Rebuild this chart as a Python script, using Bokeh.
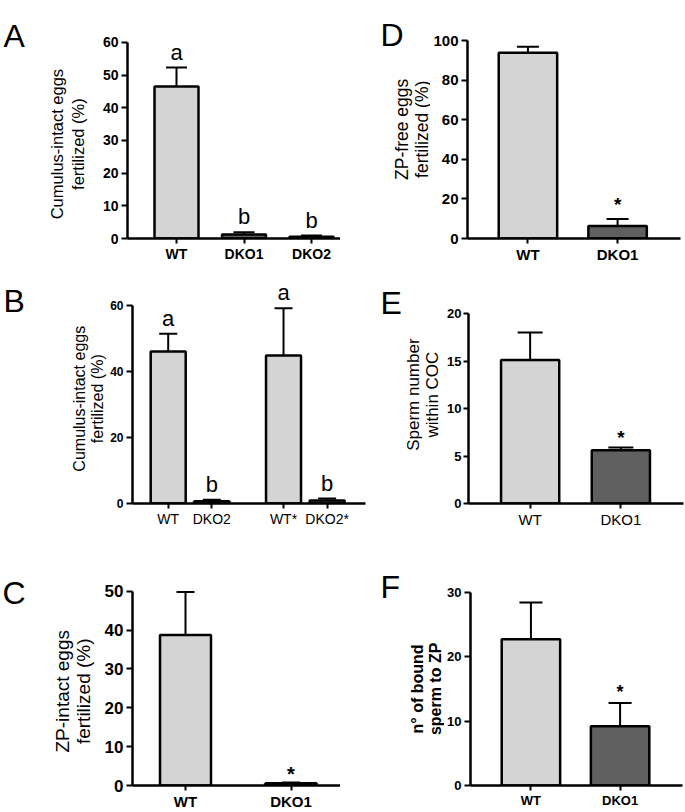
import math
from bokeh.plotting import figure
from bokeh.layouts import column, row
from bokeh.models import Range1d, FixedTicker, Whisker, TeeHead, ColumnDataSource
from bokeh.core.properties import value
from bokeh.embed import file_html
from bokeh.resources import INLINE

# ---------------- data ----------------
A_groups = ["WT", "DKO1", "DKO2"]
A_mean = [46.5, 1.2, 0.5]
A_sem = [5.8, 0.7, 0.4]
A_sig = ["a", "b", "b"]
A_ticks = [0, 10, 20, 30, 40, 50, 60]

B_groups = ["WT", "DKO2", "WT*", "DKO2*"]
B_set = [0, 0, 1, 1]
B_mean = [46.0, 0.7, 44.8, 0.9]
B_sem = [5.4, 0.4, 14.3, 0.6]
B_sig = ["a", "b", "a", "b"]
B_ticks = [0, 20, 40, 60]

C_groups = ["WT", "DKO1"]
C_mean = [38.7, 0.6]
C_sem = [11.1, 0.2]
C_sig = ["", "*"]
C_ticks = [0, 10, 20, 30, 40, 50]

D_groups = ["WT", "DKO1"]
D_mean = [93.8, 6.3]
D_sem = [3.1, 3.6]
D_sig = ["", "*"]
D_ticks = [0, 20, 40, 60, 80, 100]

E_groups = ["WT", "DKO1"]
E_mean = [15.1, 5.6]
E_sem = [2.9, 0.3]
E_sig = ["", "*"]
E_ticks = [0, 5, 10, 15, 20]

F_groups = ["WT", "DKO1"]
F_mean = [22.7, 9.2]
F_sem = [5.7, 3.6]
F_sig = ["", "*"]
F_ticks = [0, 10, 20, 30]

TITLES = {
    "A": "Cumulus-intact eggs\nfertilized (%)",
    "B": "Cumulus-intact eggs\nfertilized (%)",
    "C": "ZP-intact eggs\nfertilized (%)",
    "D": "ZP-free eggs\nfertilized (%)",
    "E": "Sperm number\nwithin COC",
    "F": "n\u00b0 of bound\nsperm to ZP",
}

# ---------------- styling ----------------
LIGHT = "#d4d4d4"
DARK = "#606060"
FONT = "Liberation Sans"


def gutter(letter, box, lpos, tpos, tfont):
    """Narrow strip left of a panel holding the panel letter and the y title."""
    x0, y0, x1, y1 = box
    w, h = x1 - x0, y1 - y0
    g = figure(width=w, height=h, x_range=Range1d(0, w), y_range=Range1d(h, 0),
               output_backend="svg", toolbar_location=None, tools="",
               x_axis_location=None, y_axis_location=None,
               min_border_left=0, min_border_right=0, min_border_top=0, min_border_bottom=0)
    g.outline_line_color = None
    g.xgrid.visible = False
    g.ygrid.visible = False
    g.text(x=[lpos[0] - x0], y=[lpos[1] - y0 - 6], text=[letter],
           text_align="left", text_baseline="top", text_font=value(FONT),
           text_font_size="32px", text_color="black")
    g.text(x=[tpos[0] - x0], y=[tpos[1] - y0], text=[TITLES[letter]], angle=math.pi / 2,
           text_align="center", text_baseline="middle", text_font=value(FONT),
           text_font_size=tfont[0], text_font_style=tfont[1],
           text_line_height=tfont[2], text_color="black")
    return g


def panel(groups, sets, mean, sem, sig, yticks, g, f):
    x0, y0, x1, y1 = g["canvas"]
    fl, fr, fb, ty, ft = g["fl"], g["fr"], g["fb"], g["ty"], g["ft"]
    unit = g["unit"]
    pos = [round(i + g.get("gap", 0) * s, 4) for i, s in enumerate(sets)]
    tmax = yticks[-1]
    y_end = tmax * (fb - ft) / (fb - ty)
    x_start = pos[0] - (g["c0"] - fl) / unit
    x_end = x_start + (fr - fl) / unit

    p = figure(width=x1 - x0, height=y1 - y0,
               x_range=Range1d(x_start, x_end), y_range=Range1d(0, y_end),
               output_backend="svg", toolbar_location=None, tools="",
               min_border_left=fl - x0, min_border_right=x1 - fr,
               min_border_top=ft - y0, min_border_bottom=y1 - fb)
    p.outline_line_color = None
    p.xgrid.visible = False
    p.ygrid.visible = False

    colors = [LIGHT if gr.startswith("WT") else DARK for gr in groups]
    up = [m + s for m, s in zip(mean, sem)]
    src = ColumnDataSource(dict(x=pos, mean=mean, up=up, sig=sig, color=colors))

    p.vbar(x="x", top="mean", bottom=0, width=g["bar"] / unit, source=src,
           fill_color="color", line_color="black", line_width=2.5)
    p.add_layout(Whisker(source=src, base="x", lower="mean", upper="up",
                         dimension="height", line_color="black", line_width=2,
                         upper_head=TeeHead(size=g["cap"], line_width=2, line_color="black"),
                         lower_head=None))
    p.text(x="x", y="up", text="sig", source=src, text_align="center",
           text_baseline="bottom", y_offset=g["sig_off"],
           text_font=value(FONT), text_font_size=f["sig"][0],
           text_font_style=f["sig"][1], text_color="black")

    xa = p.xaxis[0]
    xa.ticker = FixedTicker(ticks=pos)
    xa.major_label_overrides = {pp: gr for pp, gr in zip(pos, groups)}
    ya = p.yaxis[0]
    ya.ticker = FixedTicker(ticks=yticks)
    ya.bounds = (0, tmax)
    for ax in (xa, ya):
        ax.axis_line_width = 2.5
        ax.axis_line_color = "black"
        ax.major_tick_line_width = 2
        ax.major_tick_line_color = "black"
        ax.major_tick_in = 0
        ax.minor_tick_out = 0
        ax.minor_tick_in = 0
        ax.major_label_text_color = "black"
        ax.major_label_text_font = FONT
    xa.major_tick_out = 5
    xa.major_label_standoff = 2
    xa.major_label_text_font_size = f["xlab"][0]
    xa.major_label_text_font_style = f["xlab"][1]
    ya.major_tick_out = g.get("ytick", 6)
    ya.major_label_standoff = g.get("ystand", 3)
    ya.major_label_text_font_size = f["tick"][0]
    ya.major_label_text_font_style = f["tick"][1]
    return p


# ---- row 1 (A, D) ----
gA = gutter("A", (0, 0, 95, 268), (3, 5), (67, 153), ("16.5px", "normal", 1.2))
pA = panel(A_groups, [0, 0, 0], A_mean, A_sem, A_sig, A_ticks,
           dict(canvas=(95, 0, 340, 268), fl=127, fr=340, fb=239, ty=42, ft=18,
                c0=176, unit=67.5, bar=44, cap=21, sig_off=-3),
           dict(tick=("14px", "bold"), xlab=("14px", "bold"), sig=("22px", "normal")))
gD = gutter("D", (340, 0, 430, 268), (380, 4), (411, 135), ("17.5px", "normal", 1.0))
pD = panel(D_groups, [0, 0], D_mean, D_sem, D_sig, D_ticks,
           dict(canvas=(430, 0, 685, 268), fl=465, fr=680, fb=238, ty=40, ft=18,
                c0=526, unit=90.5, bar=59, cap=22, sig_off=-4),
           dict(tick=("15px", "bold"), xlab=("15px", "bold"), sig=("19px", "bold")))

# ---- row 2 (B, E) ----
gB = gutter("B", (0, 268, 107, 538), (3, 275), (88, 410), ("16px", "normal", 1.05))
pB = panel(B_groups, B_set, B_mean, B_sem, B_sig, B_ticks,
           dict(canvas=(107, 268, 368, 538), fl=132, fr=365, fb=505, ty=305, ft=282,
                c0=167.7, unit=43.6, gap=0.645, bar=35, cap=18, sig_off=-3),
           dict(tick=("12px", "bold"), xlab=("14px", "normal"), sig=("22px", "normal")))
gE = gutter("E", (368, 268, 444, 538), (380, 277), (422, 405), ("17px", "normal", 1.0))
pE = panel(E_groups, [0, 0], E_mean, E_sem, E_sig, E_ticks,
           dict(canvas=(444, 268, 685, 538), fl=465, fr=683, fb=503, ty=313, ft=282,
                c0=527.5, unit=92, bar=59, cap=25, sig_off=1, ytick=5, ystand=2),
           dict(tick=("13px", "bold"), xlab=("15px", "normal"), sig=("19px", "bold")))

# ---- row 3 (C, F) ----
gC = gutter("C", (0, 538, 98, 812), (2, 552), (72, 693), ("19px", "normal", 1.0))
pC = panel(C_groups, [0, 0], C_mean, C_sem, C_sig, C_ticks,
           dict(canvas=(98, 538, 340, 812), fl=132, fr=340, fb=788, ty=591, ft=568,
                c0=185, unit=105.5, bar=51, cap=18, sig_off=3),
           dict(tick=("17px", "bold"), xlab=("15px", "bold"), sig=("20px", "bold")))
gF = gutter("F", (340, 538, 444, 812), (380, 545), (426, 690), ("16px", "bold", 1.05))
pF = panel(F_groups, [0, 0], F_mean, F_sem, F_sig, F_ticks,
           dict(canvas=(444, 538, 685, 812), fl=468, fr=682, fb=789, ty=592, ft=568,
                c0=529, unit=90, bar=59, cap=23, sig_off=-1),
           dict(tick=("13px", "bold"), xlab=("13px", "bold"), sig=("18px", "bold")))

layout = column(row(gA, pA, gD, pD), row(gB, pB, gE, pE), row(gC, pC, gF, pF))
open("out.html", "w").write(file_html(layout, INLINE))
